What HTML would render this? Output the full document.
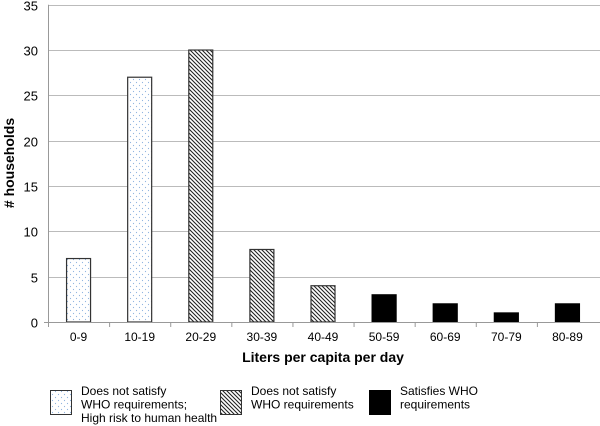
<!DOCTYPE html>
<html><head><meta charset="utf-8"><style>
html,body{margin:0;padding:0;background:#fff;}
svg{display:block;font-family:"Liberation Sans",Arial,sans-serif;}
</style></head><body>
<svg id="chart" width="600" height="426" viewBox="0 0 600 426">
<defs>
<pattern id="dots" width="6" height="6" patternUnits="userSpaceOnUse">
<rect width="6" height="6" fill="#fff"/><circle cx="1.5" cy="1.5" r="0.6" fill="#8fb4e0"/><circle cx="4.5" cy="4.5" r="0.6" fill="#8fb4e0"/>
</pattern>
<pattern id="hatch" width="4" height="4" patternUnits="userSpaceOnUse">
<rect width="4" height="4" fill="#fff"/><path d="M-1,-1 L5,5 M-1,3 L1,5 M3,-1 L5,1" stroke="#222" stroke-width="1.1"/>
</pattern>
</defs>
<g id="grid"></g>
<g id="bars"></g>
<g id="axes"></g>
<text x="14" y="163" transform="rotate(-90 14 163)" text-anchor="middle" font-size="14" font-weight="bold"># households</text>
<text x="323" y="362" text-anchor="middle" font-size="14" font-weight="bold">Liters per capita per day</text>
<g font-size="12">
<g>
<rect x="50.5" y="390.5" width="21" height="24" fill="url(#dots)" stroke="#333"/>
<text x="81" y="395">Does not satisfy</text><text x="81" y="408.5">WHO requirements;</text><text x="81" y="422">High risk to human health</text>
</g>
<g>
<rect x="220.5" y="390.5" width="21" height="24" fill="url(#hatch)" stroke="#333"/>
<text x="251" y="395">Does not satisfy</text><text x="251" y="408.5">WHO requirements</text>
</g>
<g>
<rect x="369.5" y="390.5" width="21" height="24" fill="#000" stroke="#000"/>
<text x="400" y="395">Satisfies WHO</text><text x="400" y="408.5">requirements</text>
</g>
</g>
</svg>
<script>
const categories = ["0-9","10-19","20-29","30-39","40-49","50-59","60-69","70-79","80-89"];
const values = [7,27,30,8,4,3,2,1,2];
const groups = ["risk","risk","not","not","not","ok","ok","ok","ok"];
const yTicks = [0,5,10,15,20,25,30,35];

const NS="http://www.w3.org/2000/svg";
const x0=48, x1=598, y0=322, yMax=35, yTop=4.7;
const band=(x1-x0)/categories.length;
const xs=i=>x0+band*i+band/2;
const ys=v=>y0-(y0-yTop)*v/yMax;
function mk(tag,attrs,parent){const e=document.createElementNS(NS,tag);for(const k in attrs)e.setAttribute(k,attrs[k]);parent.appendChild(e);return e;}
const grid=document.getElementById('grid'),bars=document.getElementById('bars'),axes=document.getElementById('axes');
yTicks.forEach(t=>{
  const y=Math.round(ys(t))+0.5;
  if(t>0){const l=mk('line',{x1:x0,x2:600,y1:y,y2:y,stroke:'#bbb','stroke-width':1},grid);
  
  }
  const tx=mk('text',{x:38,y:y+5,'text-anchor':'end','font-size':13},axes);tx.textContent=t;
  
  
});
const yl=mk('line',{x1:x0+0.5,x2:x0+0.5,y1:yTop,y2:y0,stroke:'#999'},axes);


const xl=mk('line',{x1:x0-4,x2:600,y1:y0+0.5,y2:y0+0.5,stroke:'#999'},axes);


const fills={risk:'url(#dots)',not:'url(#hatch)',ok:'#000'};
categories.forEach((c,i)=>{
  const tk=mk('line',{x1:x0+band*i+0.5,x2:x0+band*i+0.5,y1:y0,y2:y0+5,stroke:'#999'},axes);
  
  
  const bw=24, top=ys(values[i]);
  const r=mk('rect',{x:xs(i)-bw/2,y:top,width:bw,height:y0-top,fill:fills[groups[i]],stroke:groups[i]==='ok'?'#000':'#333','stroke-width':1.2},bars);
  
  
  const t=mk('text',{x:xs(i),y:341,'text-anchor':'middle','font-size':12},axes);t.textContent=c;
  
  
});
</script>
</body></html>
